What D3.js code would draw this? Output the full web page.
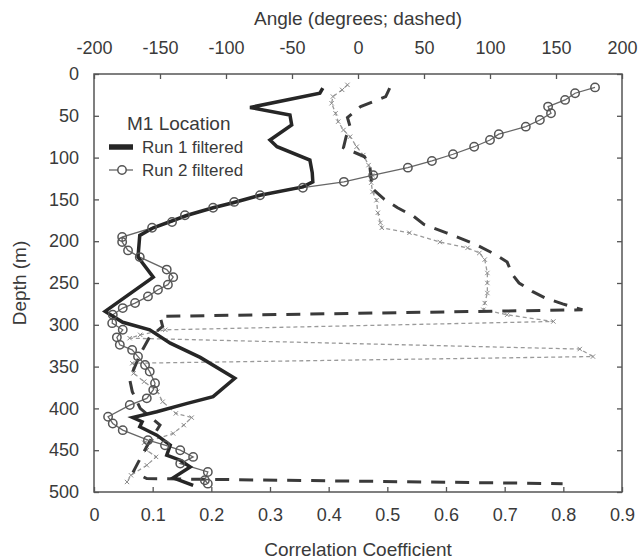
<!DOCTYPE html>
<html>
<head>
<meta charset="utf-8">
<script src="https://cdn.jsdelivr.net/npm/d3@7"></script>
<style>
  body { margin: 0; background: #fff; }
  text { font-family: "Liberation Sans", Arial, sans-serif; fill: #3a3a3a; }
</style>
</head>
<body>
<div id="chart"></div>
<script>
// tick values
var corrTicks = [0, 0.1, 0.2, 0.3, 0.4, 0.5, 0.6, 0.7, 0.8, 0.9];
var angleTicks = [-200, -150, -100, -50, 0, 50, 100, 150, 200];
var depthTicks = [0, 50, 100, 150, 200, 250, 300, 350, 400, 450, 500];

// Run 1 filtered - correlation (thick solid)
var run1Depth = [17, 23, 40, 49, 61, 79, 87, 103, 118, 129, 135, 145, 154, 160, 169, 184, 193, 219, 243,
  284, 297, 306, 322, 339, 364, 386, 394, 404, 411, 416, 422, 432, 444, 456, 462, 470, 483, 492];
var run1Corr = [0.39, 0.385, 0.266, 0.334, 0.337, 0.30, 0.312, 0.368, 0.372, 0.373, 0.356, 0.283, 0.237, 0.203, 0.159, 0.101, 0.078, 0.075, 0.101,
  0.019, 0.049, 0.095, 0.130, 0.181, 0.240, 0.203, 0.159, 0.107, 0.066, 0.082, 0.078, 0.107, 0.130, 0.124, 0.147, 0.164, 0.135, 0.169];

// Run 2 filtered - correlation (circles)
var run2Depth = [16, 23, 31, 39, 47, 55, 63, 72, 79, 87, 96, 104, 112, 121, 129, 136, 145, 153, 160, 169, 177, 184,
  195, 201, 211, 219, 234, 243, 252, 258, 266, 274, 280, 288, 298, 306, 315, 324, 330, 338, 348, 356, 370, 378,
  388, 396, 410, 418, 426, 438, 444, 450, 458, 466, 476, 486, 490];
var run2Corr = [0.854, 0.82, 0.803, 0.774, 0.779, 0.76, 0.736, 0.69, 0.675, 0.648, 0.612, 0.576, 0.535, 0.476, 0.426, 0.356, 0.283, 0.239, 0.203, 0.155, 0.133, 0.099,
  0.048, 0.048, 0.058, 0.078, 0.124, 0.135, 0.126, 0.109, 0.092, 0.070, 0.049, 0.032, 0.031, 0.049, 0.039, 0.044, 0.065, 0.075, 0.087, 0.095, 0.104, 0.101,
  0.090, 0.061, 0.024, 0.032, 0.049, 0.092, 0.121, 0.147, 0.169, 0.147, 0.194, 0.189, 0.194];

// Run 1 angle (long dashes)
var run1AngDepth = [17, 27, 39, 52, 63, 75, 88, 99, 111, 125, 136, 150, 160, 170, 180, 190, 203, 215, 225, 240, 250, 260, 268, 275, 282,
  290, 302, 315, 335, 365, 380, 400, 420, 440, 460, 475, 480, 484, 490];
var run1Ang = [24, 21, 2, -8, -6, -9, -11, 5, 9, 10, 10, 20, 30, 42, 50, 67, 88, 103, 113, 117, 122, 132, 142, 155, 170,
  -150, -148, -158, -165, -173, -171, -165, -150, -158, -165, -170, -165, -160, 155];

// Run 2 angle (short dashes with markers)
var run2AngDepth = [13, 19, 27, 35, 47, 57, 67, 75, 87, 97, 109, 121, 130, 141, 151, 166, 178, 184, 190, 201, 208, 214, 222, 238, 250, 262, 274, 282,
  288, 296, 306, 312, 316, 329, 338, 346, 358, 368, 380, 392, 406, 411, 420, 430, 441, 450, 458, 468, 480, 488];
var run2Ang = [-8, -12, -19, -20, -17, -15, -11, -6, -1, 4, 8, 11, 10, 11, 14, 15, 17, 18, 39, 62, 83, 92, 96, 98, 98, 98, 96, 95,
  113, 148, -146, -165, -173, 168, 178, -171, -170, -162, -152, -148, -138, -126, -132, -140, -162, -160, -153, -160, -172, -175];

var W = 639, H = 560;
var pLeft = 94, pRight = 622, pTop = 74, pBottom = 492;

var svg = d3.select("#chart").append("svg")
  .attr("width", W).attr("height", H);

var x = d3.scaleLinear().domain([0, 0.9]).range([pLeft, pRight]);
var xa = d3.scaleLinear().domain([-200, 200]).range([pLeft, pRight]);
var y = d3.scaleLinear().domain([0, 500]).range([pTop, pBottom]);

// axes, ticks pointing inward
function styleAxis(g) {
  g.select(".domain").remove();
  g.selectAll(".tick line").attr("stroke", "#555").attr("stroke-width", 1.3);
  g.selectAll("text").style("font-size", "18px").attr("fill", "#3a3a3a");
}

svg.append("g").attr("transform", "translate(0," + pBottom + ")")
  .call(d3.axisBottom(x).tickValues(corrTicks).tickSize(-5).tickPadding(16).tickFormat(d3.format("")))
  .call(styleAxis);

svg.append("g").attr("transform", "translate(0," + pTop + ")")
  .call(d3.axisTop(xa).tickValues(angleTicks).tickSize(-5).tickPadding(20))
  .call(styleAxis);

svg.append("g").attr("transform", "translate(" + pLeft + ",0)")
  .call(d3.axisLeft(y).tickValues(depthTicks).tickSize(-5).tickPadding(15))
  .call(styleAxis);

svg.append("g").attr("transform", "translate(" + pRight + ",0)")
  .call(d3.axisRight(y).tickValues(depthTicks).tickSize(-5).tickFormat(""))
  .call(styleAxis);

// plain hyphen for negatives
svg.selectAll(".tick text").text(function () { return d3.select(this).text().replace("\u2212", "-"); });

// frame
svg.append("rect")
  .attr("x", pLeft).attr("y", pTop)
  .attr("width", pRight - pLeft).attr("height", pBottom - pTop)
  .attr("fill", "none").attr("stroke", "#555").attr("stroke-width", 1.5);

// axis titles
svg.append("text").attr("x", 358).attr("y", 25).attr("text-anchor", "middle")
  .style("font-size", "19px").text("Angle (degrees; dashed)");
svg.append("text").attr("x", 358).attr("y", 556).attr("text-anchor", "middle")
  .style("font-size", "19px").text("Correlation Coefficient");
svg.append("text").attr("transform", "translate(26,283) rotate(-90)").attr("text-anchor", "middle")
  .style("font-size", "19px").text("Depth (m)");

var plot = svg.append("g");

// Run 2 angle
var ang2 = run2AngDepth.map(function (d, i) { return [run2Ang[i], d]; });
plot.append("path")
  .datum(ang2)
  .attr("fill", "none").attr("stroke", "#9a9a9a").attr("stroke-width", 1.3)
  .attr("stroke-dasharray", "4,3")
  .attr("d", d3.line().x(function (d) { return xa(d[0]); }).y(function (d) { return y(d[1]); }));
var sym = d3.symbol().type(d3.symbolTimes || d3.symbolCross).size(14);
plot.selectAll(".m2").data(ang2).enter().append("path")
  .attr("transform", function (d) { return "translate(" + xa(d[0]) + "," + y(d[1]) + ")"; })
  .attr("d", sym).attr("fill", "none").attr("stroke", "#8a8a8a").attr("stroke-width", 1);

// Run 1 angle
var ang1 = run1AngDepth.map(function (d, i) { return [run1Ang[i], d]; });
plot.append("path")
  .datum(ang1)
  .attr("fill", "none").attr("stroke", "#3a3a3a").attr("stroke-width", 3)
  .attr("stroke-dasharray", "14,10")
  .attr("d", d3.line().x(function (d) { return xa(d[0]); }).y(function (d) { return y(d[1]); }));

// Run 2 correlation
var c2 = run2Depth.map(function (d, i) { return [run2Corr[i], d]; });
plot.append("path")
  .datum(c2)
  .attr("fill", "none").attr("stroke", "#666").attr("stroke-width", 1.3)
  .attr("d", d3.line().x(function (d) { return x(d[0]); }).y(function (d) { return y(d[1]); }));

// Run 1 correlation
var c1 = run1Depth.map(function (d, i) { return [run1Corr[i], d]; });
plot.append("path")
  .datum(c1)
  .attr("fill", "none").attr("stroke", "#262626").attr("stroke-width", 3.5)
  .attr("d", d3.line().x(function (d) { return x(d[0]); }).y(function (d) { return y(d[1]); }));

plot.selectAll(".c2").data(c2).enter().append("circle")
  .attr("cx", function (d) { return x(d[0]); })
  .attr("cy", function (d) { return y(d[1]); })
  .attr("r", 4.2)
  .attr("fill", "none").attr("stroke", "#555").attr("stroke-width", 1.5);

// legend
var lg = svg.append("g");
lg.append("text").attr("x", 127).attr("y", 130).style("font-size", "19px").text("M1 Location");
lg.append("line").attr("x1", 109).attr("x2", 133).attr("y1", 147).attr("y2", 147)
  .attr("stroke", "#262626").attr("stroke-width", 5.5);
lg.append("text").attr("x", 142).attr("y", 153).style("font-size", "17px").text("Run 1 filtered");
lg.append("line").attr("x1", 109).attr("x2", 133).attr("y1", 170).attr("y2", 170)
  .attr("stroke", "#666").attr("stroke-width", 1.3);
lg.append("circle").attr("cx", 122).attr("cy", 170).attr("r", 4.2)
  .attr("fill", "#fff").attr("stroke", "#555").attr("stroke-width", 1.5);
lg.append("text").attr("x", 142).attr("y", 176).style("font-size", "17px").text("Run 2 filtered");
</script>
</body>
</html>
